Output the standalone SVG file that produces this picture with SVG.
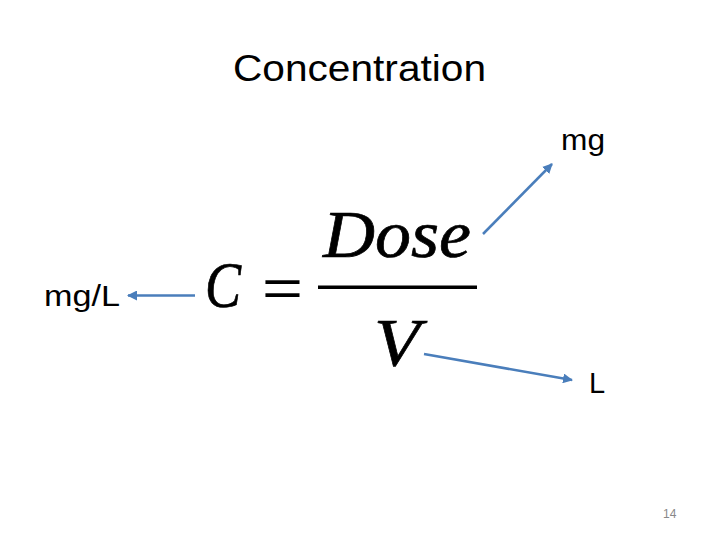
<svg xmlns="http://www.w3.org/2000/svg" width="720" height="540" viewBox="0 0 720 540">
<style>
.lbl{font-family:"Liberation Sans","DejaVu Sans",sans-serif;fill:#000}
.math{font-family:"Liberation Serif","DejaVu Serif",serif;font-style:italic;fill:#000;stroke:#000;stroke-width:0.7}
.conn{stroke:#4a7ebb;stroke-width:2.5;fill:none;marker-end:url(#ah)}
</style>
<defs>
<marker id="ah" viewBox="0 0 10 10" refX="9" refY="5" markerWidth="4" markerHeight="4" orient="auto" markerUnits="strokeWidth">
<path d="M0,0 L10,5 L0,10 z" fill="#4a7ebb"/>
</marker>
</defs>
<rect width="720" height="540" fill="#fff"/>
<g id="title"><text class="lbl" x="233" y="81" font-size="36" textLength="253" lengthAdjust="spacingAndGlyphs">Concentration</text></g>
<g id="equation">
<text class="math" x="205" y="307" font-size="66" textLength="36" lengthAdjust="spacingAndGlyphs">C</text>
<text class="lbl" x="262" y="306" font-size="52" textLength="41" lengthAdjust="spacingAndGlyphs">=</text>
<text class="math" x="323" y="257" font-size="68" textLength="148" lengthAdjust="spacingAndGlyphs">Dose</text>
<rect x="318" y="285.5" width="159" height="3.5" fill="#000"/>
<text class="math" x="374" y="365" font-size="68" textLength="46" lengthAdjust="spacingAndGlyphs">V</text>
</g>
<g id="node-mgL"><text class="lbl" x="44" y="306" font-size="29" textLength="76" lengthAdjust="spacingAndGlyphs">mg/L</text></g>
<g id="node-mg"><text class="lbl" x="561" y="150" font-size="29" textLength="44" lengthAdjust="spacingAndGlyphs">mg</text></g>
<g id="node-L"><text class="lbl" x="589" y="393" font-size="29">L</text></g>
<g id="page"><text x="663" y="518" font-size="12" fill="#888" font-family="'Liberation Sans',sans-serif">14</text></g>
<g id="connectors">
<line class="conn" x1="195" y1="295.5" x2="128" y2="295.5"/>
<line class="conn" x1="483" y1="234" x2="552" y2="164"/>
<line class="conn" x1="424" y1="354" x2="572" y2="380"/>
</g>
</svg>
